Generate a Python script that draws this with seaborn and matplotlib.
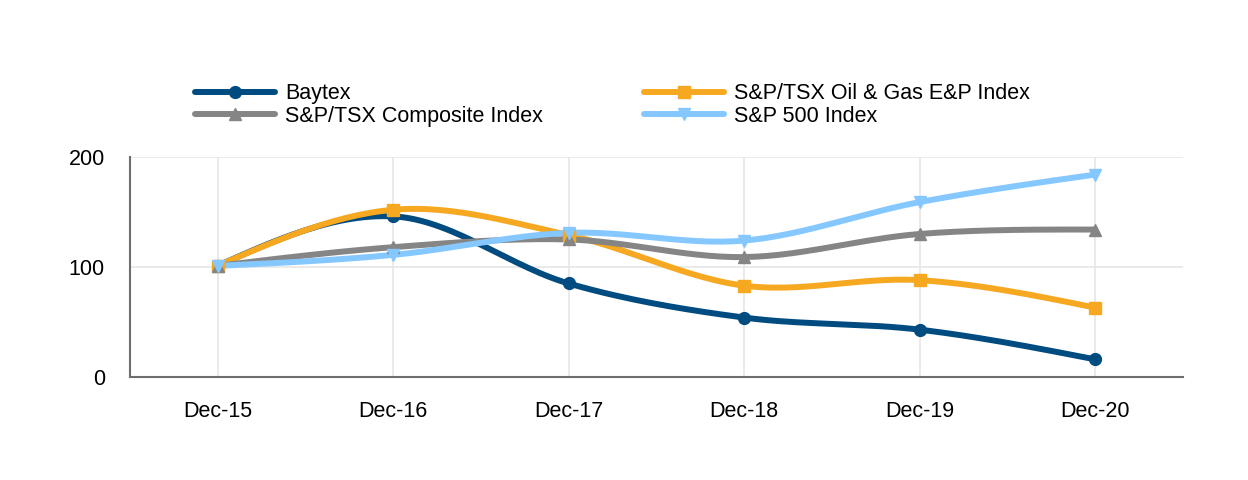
import numpy as np
import pandas as pd
import matplotlib
matplotlib.use("Agg")
import matplotlib.pyplot as plt
import seaborn as sns
from matplotlib.lines import Line2D

years = ["Dec-15", "Dec-16", "Dec-17", "Dec-18", "Dec-19", "Dec-20"]
baytex = [101, 146, 85, 54, 43, 16]
oil_gas = [101, 152, 129, 83, 88, 63]
composite = [101, 118, 125, 109, 130, 134]
sp500 = [101, 111, 131, 124, 159, 184]

series = [
    ("Baytex", baytex, "#004B80", "o"),
    ("S&P/TSX Oil & Gas E&P Index", oil_gas, "#F6A821", "s"),
    ("S&P/TSX Composite Index", composite, "#858585", "^"),
    ("S&P 500 Index", sp500, "#85C8FF", "v"),
]


def smooth(y, n=30):
    # cardinal curve through the points, like excel's smoothed lines
    y = np.asarray(y, dtype=float)
    k = len(y)
    m = np.zeros(k)
    m[1:-1] = (y[2:] - y[:-2]) / 2
    m[0] = (3 * (y[1] - y[0]) - m[1]) / 2
    m[-1] = (3 * (y[-1] - y[-2]) - m[-2]) / 2
    xs, ys = [], []
    t = np.linspace(0, 1, n, endpoint=False)
    h00 = 2 * t**3 - 3 * t**2 + 1
    h10 = t**3 - 2 * t**2 + t
    h01 = -2 * t**3 + 3 * t**2
    h11 = t**3 - t**2
    for i in range(k - 1):
        xs.extend(i + t)
        ys.extend(h00 * y[i] + h10 * m[i] + h01 * y[i + 1] + h11 * m[i + 1])
    xs.append(k - 1)
    ys.append(y[-1])
    return np.array(xs), np.array(ys)


sns.set_style("white")
plt.rcParams["font.family"] = ["Liberation Sans", "DejaVu Sans"]
plt.rcParams["text.color"] = "black"

fig = plt.figure(figsize=(12.48, 4.8), dpi=100)
ax = fig.add_axes([0.104, 0.2146, 0.844, 0.4584])

handles = []
for name, vals, color, mk in series:
    xs, ys = smooth(vals)
    df = pd.DataFrame({"x": xs, "y": ys})
    sns.lineplot(data=df, x="x", y="y", ax=ax, color=color, linewidth=4.3,
                 solid_capstyle="round", zorder=3)
    ax.plot(range(len(years)), vals, linestyle="none", marker=mk, color=color,
            markersize=8.5, zorder=4)
    handles.append(Line2D([0], [0], color=color, linewidth=4.3, marker=mk,
                          markersize=8.5, label=name))

ax.set_xlim(-0.5, 5.5)
ax.set_ylim(0, 200)
ax.set_xticks(range(len(years)))
ax.set_xticklabels(years)
ax.set_yticks([0, 100, 200])
ax.set_xlabel("")
ax.set_ylabel("")
ax.grid(True, color="#e6e6e6", linewidth=1.2)
ax.set_axisbelow(True)
for s in ["top", "right"]:
    ax.spines[s].set_visible(False)
for s in ["left", "bottom"]:
    ax.spines[s].set_color("#6e6e6e")
    ax.spines[s].set_linewidth(1.5)
ax.tick_params(axis="both", length=8, width=1.2, color="#8a8a8a",
               labelsize=15.5, labelcolor="black")
ax.tick_params(axis="x", pad=9)
ax.tick_params(axis="y", pad=10)

order = [handles[0], handles[2], handles[1], handles[3]]
fig.legend(handles=order, loc="upper left", bbox_to_anchor=(0.141, 0.867),
           ncol=2, frameon=False, fontsize=15.5, handlelength=3.7,
           handletextpad=0.47, columnspacing=4.7, labelspacing=0.08,
           labelcolor="black")

fig.savefig("out.png", dpi=100, facecolor="white")
